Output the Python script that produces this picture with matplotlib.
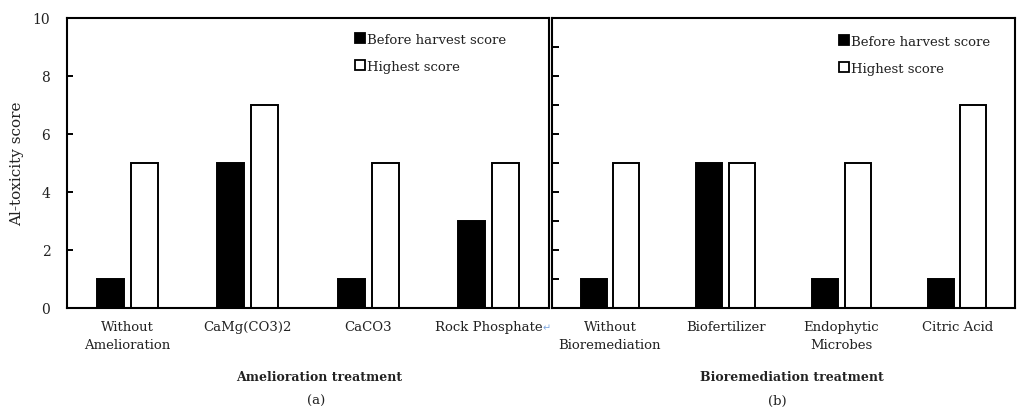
import numpy as np
import matplotlib
matplotlib.use("Agg")
import matplotlib.pyplot as plt
from matplotlib.lines import Line2D

# data
amelioration = ["Without\nAmelioration", "CaMg(CO3)2", "CaCO3", "Rock Phosphate"]
before_a = [1, 5, 1, 3]
highest_a = [5, 7, 5, 5]

bioremediation = ["Without\nBioremediation", "Biofertilizer", "Endophytic\nMicrobes", "Citric Acid"]
before_b = [1, 5, 1, 1]
highest_b = [5, 5, 5, 7]

series_names = ["Before harvest score", "Highest score"]

plt.rcParams["font.family"] = ["DejaVu Serif"]
plt.rcParams["font.size"] = 9.5
TXT = "#222222"

W, H = 1019, 410
fig = plt.figure(figsize=(W / 100, H / 100), dpi=100)
ax_a = fig.add_axes([67 / W, 101 / H, 482 / W, 290 / H])
ax_b = fig.add_axes([552 / W, 101 / H, 463 / W, 290 / H])

bar_w = 0.225
off = 0.14


def draw_panel(ax, cats, before, highest):
    x = np.arange(len(cats))
    ax.bar(x - off, before, bar_w, color="black", edgecolor="black", linewidth=1.4)
    ax.bar(x + off, highest, bar_w, color="white", edgecolor="black", linewidth=1.4)
    ax.set_xlim(-0.5, len(cats) - 0.5)
    ax.set_ylim(0, 10)
    ax.set_xticks(x)
    ax.set_xticklabels(cats, color=TXT, linespacing=1.45)
    ax.tick_params(axis="x", length=0, pad=9)
    for s in ax.spines.values():
        s.set_linewidth(1.5)


draw_panel(ax_a, amelioration, before_a, highest_a)
draw_panel(ax_b, bioremediation, before_b, highest_b)

ax_a.set_yticks(np.arange(0, 11, 2))
ax_a.tick_params(axis="y", direction="in", length=4, width=1.4,
                 labelcolor=TXT, labelsize=10, pad=12)
ax_a.set_ylabel("Al-toxicity score", color=TXT, fontsize=11, labelpad=6)

ax_b.set_yticks(np.arange(1, 10, 1))
ax_b.tick_params(axis="y", direction="in", length=5, width=1.4, labelleft=False)

handles = [
    Line2D([], [], marker="s", linestyle="none", markersize=6.5,
           markerfacecolor="black", markeredgecolor="black", markeredgewidth=1.3),
    Line2D([], [], marker="s", linestyle="none", markersize=6.5,
           markerfacecolor="white", markeredgecolor="black", markeredgewidth=1.3),
]
for ax, anchor in [(ax_a, (0.6, 0.948)), (ax_b, (0.622, 0.941))]:
    ax.legend(handles, series_names, loc="upper left", bbox_to_anchor=anchor,
              frameon=False, handlelength=0.55, handletextpad=0.3,
              labelspacing=1.05, borderpad=0, borderaxespad=0,
              fontsize=9.5, labelcolor=TXT)

fig.text(319 / W, 1 - 378 / H, "Amelioration treatment", ha="center", va="center",
         fontweight="bold", fontsize=9, color=TXT)
fig.text(316 / W, 1 - 401 / H, "(a)", ha="center", va="center", fontsize=9.5, color=TXT)
fig.text(792 / W, 1 - 378 / H, "Bioremediation treatment", ha="center", va="center",
         fontweight="bold", fontsize=9, color=TXT)
fig.text(777 / W, 1 - 401 / H, "(b)", ha="center", va="center", fontsize=9.5, color=TXT)

# stray return mark after the last label of panel (a)
fig.canvas.draw()
lab = ax_a.get_xticklabels()[-1]
bb = lab.get_window_extent()
fig.text(bb.x1 / W, (bb.y0 + bb.y1) / 2 / H, "\u21b5", ha="left", va="center",
         fontsize=7, color="#7fa8e0", family="DejaVu Sans")

fig.savefig("out.png", dpi=100)
